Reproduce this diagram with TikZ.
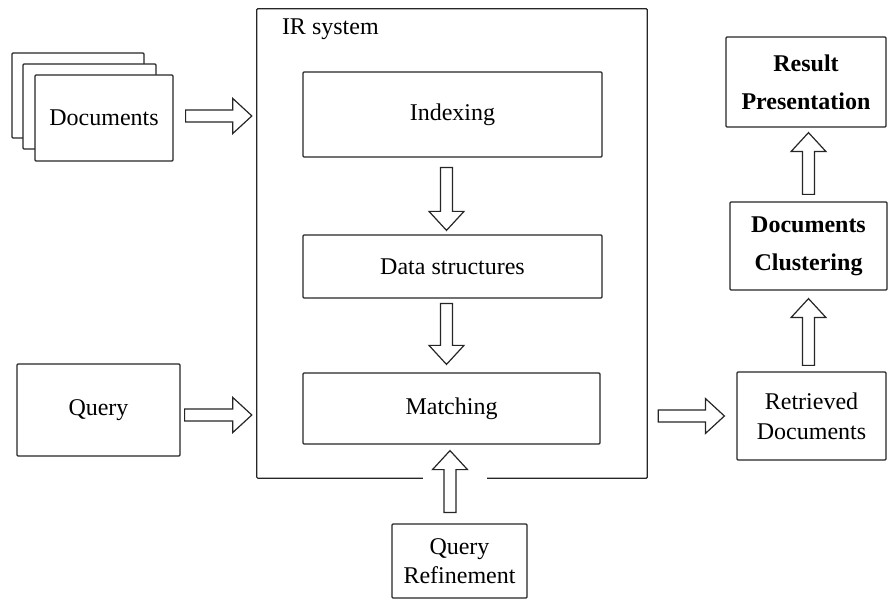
\documentclass[tikz,border=0pt]{standalone}
\usepackage{fontspec}
\setmainfont{Liberation Serif}
\usetikzlibrary{calc}

% block arrow dimensions
\newcommand\shaftw{6pt}
\newcommand\headw{17.5pt}
\newcommand\headlen{19pt}

\tikzset{
  box/.style={draw=black!85, line width=1.2pt, rounded corners=1pt, fill=white,
    inner sep=0pt, align=center, font=\fontsize{24}{29}\selectfont},
  boldbox/.style={box, font=\fontsize{24}{38}\selectfont\bfseries},
  frame/.style={draw=black!85, line width=1.2pt, rounded corners=1pt},
  blockarrow/.style={draw=black!85, fill=white, line width=1.2pt, line join=miter},
}

% hollow block arrow from #1 to #2 (coordinates given with parentheses)
\newcommand\blkarrow[2]{%
  \coordinate (bas) at #1;
  \coordinate (bat) at #2;
  \coordinate (bah) at ($(bat)!\headlen!(bas)$);
  \draw[blockarrow] ($(bas)!\shaftw!90:(bat)$) -- ($(bah)!\shaftw!90:(bat)$)
    -- ($(bah)!\headw!90:(bat)$) -- (bat) -- ($(bah)!\headw!-90:(bat)$)
    -- ($(bah)!\shaftw!-90:(bat)$) -- ($(bas)!\shaftw!-90:(bat)$) -- cycle;}

\begin{document}
\begin{tikzpicture}[x=1pt, y=-1pt]
\useasboundingbox (0,0) rectangle (889,601);

% stack of documents
\node[box, minimum width=132pt, minimum height=85pt] (docsc) at (78,95.5) {};
\node[box, minimum width=133pt, minimum height=85pt] (docsb) at (89.5,106.5) {};
\node[box, minimum width=138pt, minimum height=86pt] (docs) at (104,118) {Documents};

\node[box, minimum width=163pt, minimum height=92pt] (query) at (98.5,410) {Query};

% IR system frame, open at the bottom where the refinement arrow enters
\node[minimum width=390pt, minimum height=469pt, inner sep=0pt] (ir) at (452,243.5) {};
\draw[frame] ($(ir.south west)+(166,0)$) -- (ir.south west) -- (ir.north west)
  -- (ir.north east) -- (ir.south east) -- ($(ir.south east)+(-160,0)$);
\node[anchor=base west, inner sep=0pt, font=\fontsize{24}{29}\selectfont] (irlabel)
  at ($(ir.north west)+(25,26)$) {IR system};

\node[box, minimum width=299pt, minimum height=85pt] (idx) at (452.5,114.5) {Indexing};
\node[box, minimum width=299pt, minimum height=63pt] (data) at (452.5,266.5) {Data structures};
\node[box, minimum width=297pt, minimum height=71pt] (match) at (451.5,408.5) {Matching};

\node[box, minimum width=135pt, minimum height=74pt] (refine) at (459.5,561)
  {Query\\Refinement};

\node[box, minimum width=149pt, minimum height=88pt, font=\fontsize{24}{30}\selectfont]
  (retr) at (811.5,416) {Retrieved\\Documents};
\node[boldbox, minimum width=157pt, minimum height=88pt] (clust) at (808.5,246)
  {Documents\\Clustering};
\node[boldbox, minimum width=160pt, minimum height=90pt] (result) at (806,82)
  {Result\\Presentation};

% block arrows
\blkarrow{($(docs.east)+(12,-2)$)}{($(docs.east -| ir.west)+(-5,-2)$)}
\blkarrow{($(query.east)+(4,5)$)}{($(query.east -| ir.west)+(-5,5)$)}
\blkarrow{($(idx.south)+(-6,10)$)}{($(data.north)+(-6,-4)$)}
\blkarrow{($(data.south)+(-6,5)$)}{($(match.north)+(-5,-8)$)}
\blkarrow{($(refine.north)+(-9.5,-11)$)}{($(refine.north |- match.south)+(-9.5,6)$)}
\blkarrow{($(ir.east |- retr.west)+(11,0)$)}{($(retr.west)+(-12,0)$)}
\blkarrow{($(retr.north)+(-3,-6)$)}{($(retr.north |- clust.south)+(-3,8)$)}
\blkarrow{($(clust.north)+(0,-7)$)}{($(clust.north |- result.south)+(0,5)$)}
\end{tikzpicture}
\end{document}
